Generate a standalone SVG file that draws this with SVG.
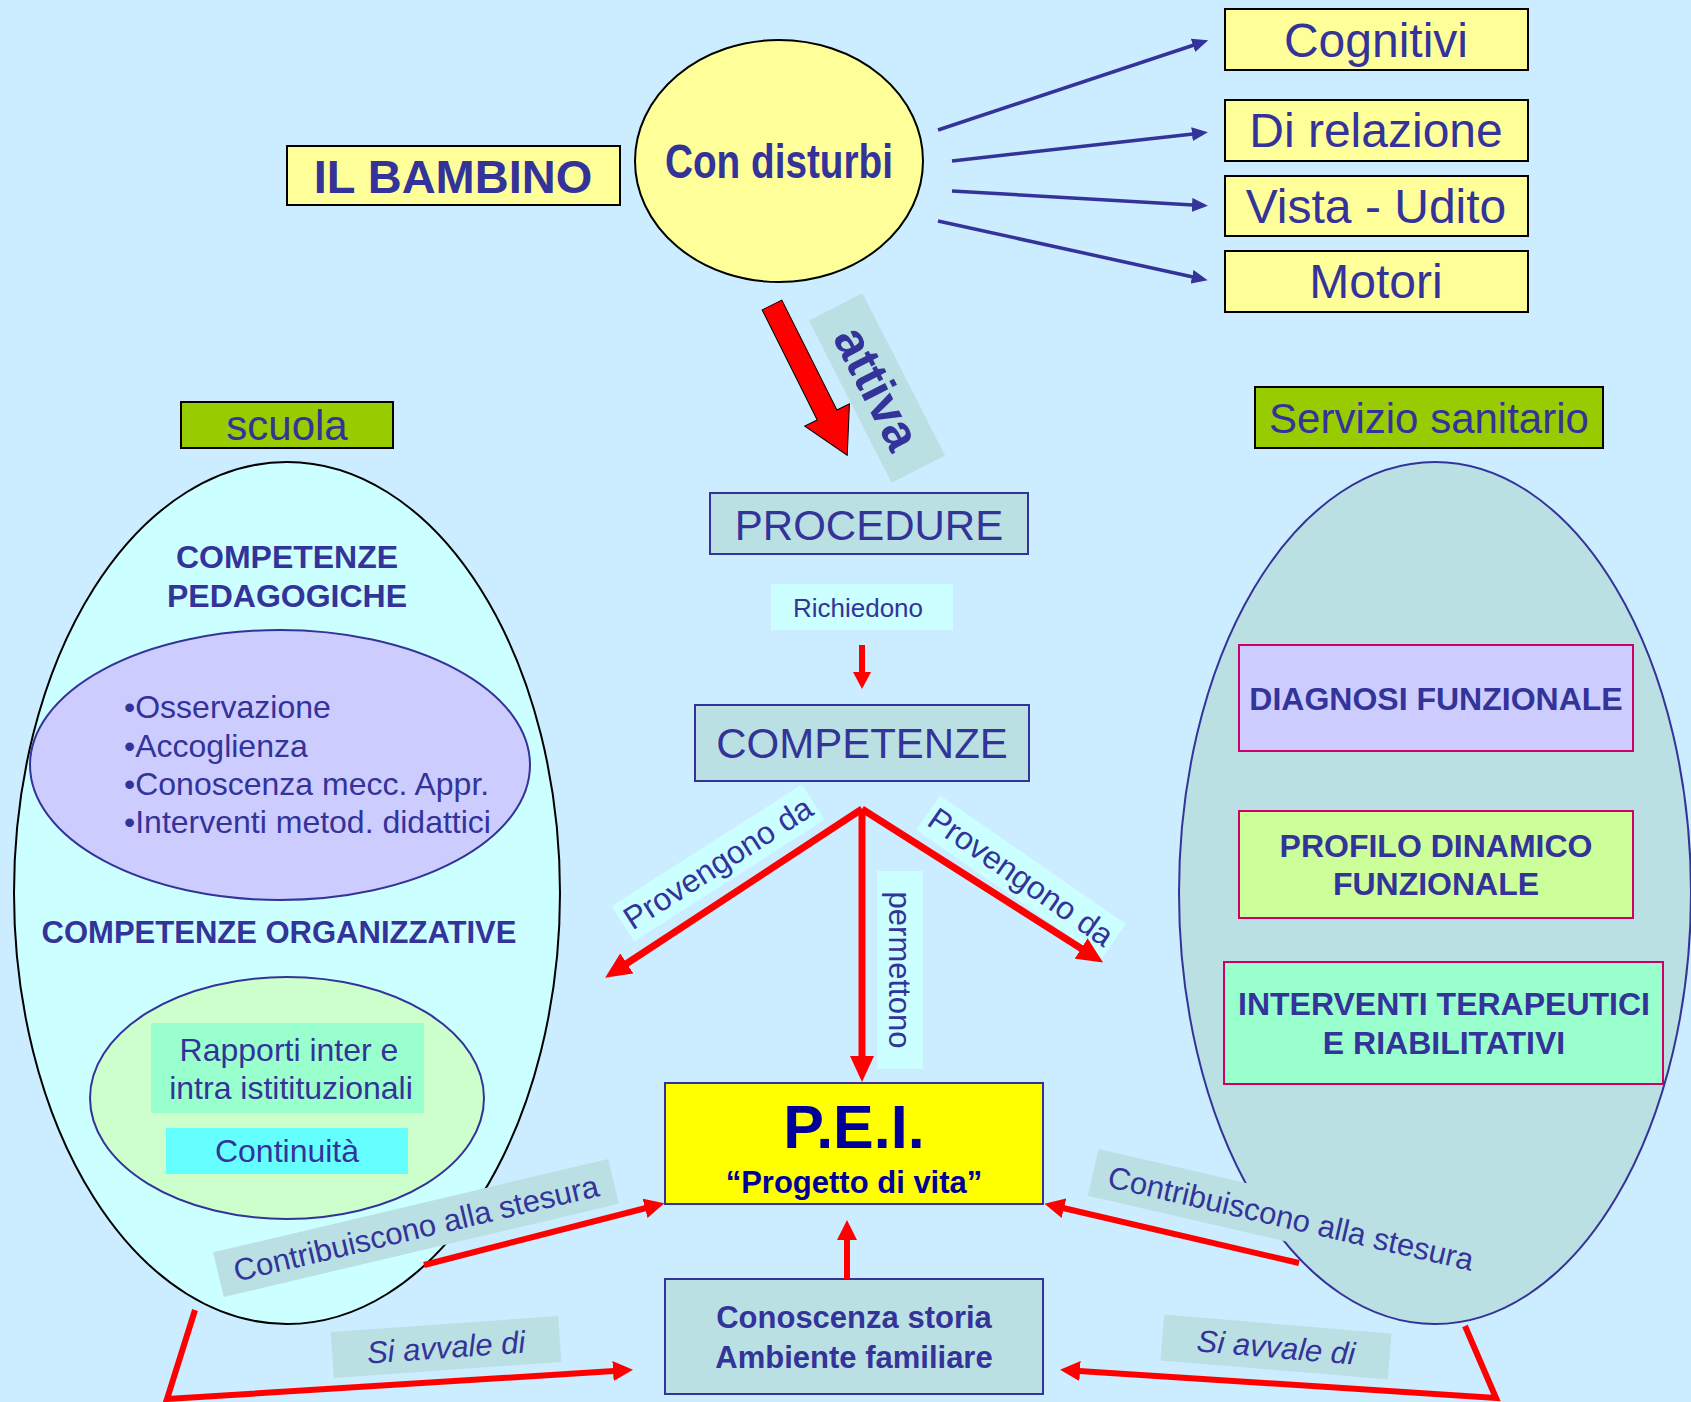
<svg xmlns="http://www.w3.org/2000/svg" width="1691" height="1402" viewBox="0 0 1691 1402">
<defs>
<style>
text{font-family:"Liberation Sans",Arial,sans-serif;fill:#333399}
.b{font-weight:bold}
.it{font-style:italic}
.ybox{fill:#FFFF99;stroke:#000;stroke-width:2}
.gbox{fill:#99CC00;stroke:#000;stroke-width:2}
.tbox{fill:#BBE0E3;stroke:#333399;stroke-width:2}
.pbox{stroke:#CC0066;stroke-width:2}
.lab{fill:#BBE0E3}
.labc{fill:#CCFFFF}
.red{fill:none;stroke:#FF0000;stroke-width:7}
.redm{fill:none;stroke:#FF0000;stroke-width:6}
.blue{fill:none;stroke:#333399;stroke-width:3.5}
</style>
<marker id="ar" markerUnits="userSpaceOnUse" markerWidth="27" markerHeight="24" refX="1" refY="12" orient="auto"><path d="M0,0 L26,12 L0,24 z" fill="#FF0000"/></marker>
<marker id="am" markerUnits="userSpaceOnUse" markerWidth="21" markerHeight="20" refX="1" refY="10" orient="auto"><path d="M0,0 L20,10 L0,20 z" fill="#FF0000"/></marker>
<marker id="as" markerUnits="userSpaceOnUse" markerWidth="18" markerHeight="18" refX="1" refY="9" orient="auto"><path d="M0,0 L17,9 L0,18 z" fill="#FF0000"/></marker>
<marker id="ab" markerUnits="userSpaceOnUse" markerWidth="17" markerHeight="14" refX="1" refY="7" orient="auto"><path d="M0,0 L16,7 L0,14 z" fill="#333399"/></marker>
</defs>
<rect width="1691" height="1402" fill="#CCECFF"/>

<g id="il-bambino"><rect class="ybox" x="287" y="146" width="333" height="59"/><text class="b" x="453" y="193" font-size="47" text-anchor="middle">IL BAMBINO</text></g>
<g id="con-disturbi"><ellipse cx="779" cy="161" rx="144" ry="121" fill="#FFFF99" stroke="#000" stroke-width="2"/><text class="b" x="779" y="178" font-size="48" text-anchor="middle" textLength="228" lengthAdjust="spacingAndGlyphs">Con disturbi</text></g>
<g id="cognitivi"><rect class="ybox" x="1225" y="9" width="303" height="61"/><text x="1376" y="57" font-size="48" text-anchor="middle">Cognitivi</text></g>
<g id="di-relazione"><rect class="ybox" x="1225" y="100" width="303" height="61"/><text x="1376" y="147" font-size="48" text-anchor="middle">Di relazione</text></g>
<g id="vista-udito"><rect class="ybox" x="1225" y="176" width="303" height="60"/><text x="1376" y="223" font-size="48" text-anchor="middle">Vista - Udito</text></g>
<g id="motori"><rect class="ybox" x="1225" y="251" width="303" height="61"/><text x="1376" y="298" font-size="48" text-anchor="middle">Motori</text></g>

<g id="scuola"><rect class="gbox" x="181" y="402" width="212" height="46"/><text x="287" y="440" font-size="42" text-anchor="middle">scuola</text></g>
<g id="servizio-sanitario"><rect class="gbox" x="1255" y="387" width="348" height="61"/><text x="1429" y="433" font-size="42" text-anchor="middle">Servizio sanitario</text></g>

<g id="scuola-ellipse">
<ellipse cx="287" cy="893" rx="273" ry="431" fill="#CCFFFF" stroke="#000" stroke-width="2"/>
<text class="b" x="287" y="568" font-size="32" text-anchor="middle">COMPETENZE</text>
<text class="b" x="287" y="607" font-size="32" text-anchor="middle">PEDAGOGICHE</text>
</g>
<g id="pedagogiche">
<ellipse cx="280" cy="765" rx="250" ry="135" fill="#CCCCFF" stroke="#333399" stroke-width="2"/>
<text x="124" y="718" font-size="32">•Osservazione</text>
<text x="124" y="757" font-size="32">•Accoglienza</text>
<text x="124" y="795" font-size="32">•Conoscenza mecc. Appr.</text>
<text x="124" y="833" font-size="32">•Interventi metod. didattici</text>
</g>
<g id="organizzative-title"><text class="b" x="279" y="943" font-size="31" text-anchor="middle">COMPETENZE ORGANIZZATIVE</text></g>
<g id="organizzative">
<ellipse cx="287" cy="1098" rx="197" ry="121" fill="#CCFFCC" stroke="#333399" stroke-width="2"/>
<rect x="151" y="1023" width="273" height="90" fill="#99FFCC"/>
<text x="289" y="1061" font-size="32" text-anchor="middle">Rapporti inter e</text>
<text x="291" y="1099" font-size="32" text-anchor="middle">intra istitituzionali</text>
</g>
<g id="continuita"><rect x="166" y="1128" width="242" height="46" fill="#66FFFF"/><text x="287" y="1162" font-size="32" text-anchor="middle">Continuità</text></g>

<g id="sanitario-ellipse"><ellipse cx="1435" cy="893" rx="256" ry="431" fill="#BBE0E3" stroke="#333399" stroke-width="2"/></g>
<g id="diagnosi"><rect class="pbox" x="1239" y="645" width="394" height="106" fill="#CCCCFF"/><text class="b" x="1436" y="710" font-size="32" text-anchor="middle">DIAGNOSI FUNZIONALE</text></g>
<g id="profilo"><rect class="pbox" x="1239" y="811" width="394" height="107" fill="#CCFF99"/><text class="b" x="1436" y="857" font-size="32" text-anchor="middle">PROFILO DINAMICO</text><text class="b" x="1436" y="895" font-size="32" text-anchor="middle">FUNZIONALE</text></g>
<g id="interventi"><rect class="pbox" x="1224" y="962" width="439" height="122" fill="#99FFCC"/><text class="b" x="1444" y="1015" font-size="32" text-anchor="middle">INTERVENTI TERAPEUTICI</text><text class="b" x="1444" y="1054" font-size="32" text-anchor="middle">E RIABILITATIVI</text></g>

<g id="procedure"><rect class="tbox" x="710" y="493" width="318" height="61"/><text x="869" y="540" font-size="42" text-anchor="middle">PROCEDURE</text></g>
<g id="competenze"><rect class="tbox" x="695" y="705" width="334" height="76"/><text x="862" y="758" font-size="42" text-anchor="middle">COMPETENZE</text></g>
<g id="pei"><rect x="665" y="1083" width="378" height="121" fill="#FFFF00" stroke="#333399" stroke-width="2"/><text class="b" x="854" y="1148" font-size="61" text-anchor="middle" style="fill:#000099">P.E.I.</text><text class="b" x="854" y="1193" font-size="31" text-anchor="middle" style="fill:#000099">“Progetto di vita”</text></g>
<g id="conoscenza"><rect class="tbox" x="665" y="1279" width="378" height="115"/><text class="b" x="854" y="1328" font-size="31" text-anchor="middle">Conoscenza storia</text><text class="b" x="854" y="1368" font-size="31" text-anchor="middle">Ambiente familiare</text></g>

<g id="labels">
<g transform="translate(877,388) rotate(63)"><rect class="lab" x="-91" y="-30" width="182" height="60"/><text class="b" x="0" y="17" font-size="50" text-anchor="middle">attiva</text></g>
<g><rect class="labc" x="771" y="584" width="182" height="46"/><text x="858" y="617" font-size="26" text-anchor="middle">Richiedono</text></g>
<g transform="translate(718,863) rotate(-32.6)"><rect class="labc" x="-113" y="-21" width="226" height="42"/><text x="0" y="11" font-size="32" text-anchor="middle">Provengono da</text></g>
<g transform="translate(1021,877) rotate(34.7)"><rect class="labc" x="-113" y="-21" width="226" height="42"/><text x="0" y="11" font-size="32" text-anchor="middle">Provengono da</text></g>
<g transform="translate(900,970) rotate(90)"><rect class="labc" x="-99" y="-23" width="198" height="46"/><text x="0" y="11" font-size="31" text-anchor="middle">permettono</text></g>
<g transform="translate(416,1228) rotate(-13.3)"><rect class="lab" x="-203" y="-23" width="406" height="46"/><text x="0" y="11" font-size="31" text-anchor="middle">Contribuiscono alla stesura</text></g>
<g transform="translate(1291,1218) rotate(13)"><rect class="lab" x="-203" y="-24" width="406" height="48"/><text x="0" y="11" font-size="31" text-anchor="middle">Contribuiscono alla stesura</text></g>
<g transform="translate(446,1347) rotate(-4)"><rect class="lab" x="-114" y="-23" width="228" height="46"/><text class="it" x="0" y="11" font-size="31" text-anchor="middle">Si avvale di</text></g>
<g transform="translate(1276,1347) rotate(4.8)"><rect class="lab" x="-114" y="-23" width="228" height="46"/><text class="it" x="0" y="11" font-size="31" text-anchor="middle">Si avvale di</text></g>
</g>

<g id="connectors">
<line class="blue" x1="938" y1="130" x2="1194" y2="45" marker-end="url(#ab)"/>
<line class="blue" x1="952" y1="161" x2="1193" y2="134" marker-end="url(#ab)"/>
<line class="blue" x1="952" y1="191" x2="1193" y2="205" marker-end="url(#ab)"/>
<line class="blue" x1="938" y1="221" x2="1193" y2="277" marker-end="url(#ab)"/>
<g transform="translate(772,305) rotate(-26.6)"><polygon points="-11,0 11,0 11,123 25,123 0,168 -25,123 -11,123" fill="#FF0000" stroke="#000" stroke-width="1"/></g>
<line class="redm" x1="862" y1="645" x2="862" y2="673" stroke-width="5" marker-end="url(#as)"/>
<line class="red" x1="862" y1="809" x2="626" y2="964" marker-end="url(#ar)"/>
<line class="red" x1="862" y1="809" x2="1082" y2="949" marker-end="url(#ar)"/>
<line class="red" x1="862" y1="809" x2="862" y2="1057" marker-end="url(#ar)"/>
<line class="redm" x1="424" y1="1265" x2="646" y2="1208" marker-end="url(#am)"/>
<line class="redm" x1="1299" y1="1263" x2="1063" y2="1208" marker-end="url(#am)"/>
<line class="redm" x1="847" y1="1279" x2="847" y2="1239" marker-end="url(#am)"/>
<polyline class="redm" points="195,1310 167,1399 614,1371" marker-end="url(#am)"/>
<polyline class="redm" points="1465,1326 1496,1398 1079,1371" marker-end="url(#am)"/>
</g>
</svg>
